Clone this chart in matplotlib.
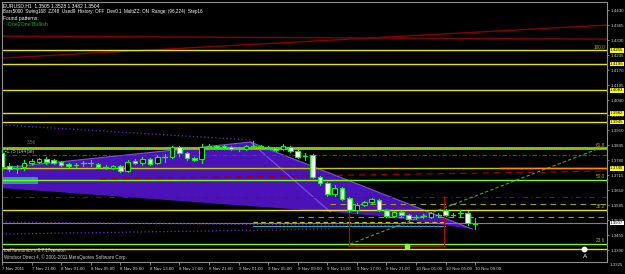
import matplotlib
matplotlib.use("Agg")
import matplotlib.pyplot as plt
import matplotlib.patches as patches

plt.rcParams['font.family'] = ['Liberation Sans', 'DejaVu Sans']

# EURUSD H1 candles, bar index = hours after 7 Nov 2011 17:00
opens = [1.3810, 1.3754, 1.3745, 1.3750, 1.3767, 1.3771, 1.3784, 1.3780, 1.3771, 1.3763,
         1.3758, 1.3767, 1.3766, 1.3763, 1.3750, 1.3745, 1.3754, 1.3732, 1.3776, 1.3767,
         1.3784, 1.3767, 1.3793, 1.3793, 1.3836, 1.3810, 1.3789, 1.3784, 1.3841, 1.3841,
         1.3841, 1.3836, 1.3832, 1.3828, 1.3841, 1.3841, 1.3836, 1.3832, 1.3828, 1.3836,
         1.3819, 1.3797, 1.3802, 1.3706, 1.3680, 1.3633, 1.3659, 1.3615, 1.3563, 1.3585,
         1.3598, 1.3607, 1.3563, 1.3537, 1.3555, 1.3542, 1.3533, 1.3537, 1.3533, 1.3542,
         1.3563, 1.3542, 1.3550, 1.3550, 1.3505]
highs = [1.3823, 1.3767, 1.3758, 1.3780, 1.3784, 1.3789, 1.3793, 1.3784, 1.3776, 1.3767,
         1.3767, 1.3776, 1.3780, 1.3767, 1.3758, 1.3758, 1.3758, 1.3780, 1.3784, 1.3793,
         1.3789, 1.3802, 1.3806, 1.3841, 1.3841, 1.3815, 1.3793, 1.3849, 1.3849, 1.3845,
         1.3845, 1.3841, 1.3836, 1.3845, 1.3862, 1.3845, 1.3841, 1.3836, 1.3849, 1.3841,
         1.3823, 1.3810, 1.3806, 1.3711, 1.3685, 1.3672, 1.3663, 1.3620, 1.3594, 1.3603,
         1.3615, 1.3611, 1.3568, 1.3559, 1.3559, 1.3546, 1.3542, 1.3546, 1.3555, 1.3550,
         1.3568, 1.3550, 1.3563, 1.3559, 1.3528]
lows = [1.3737, 1.3732, 1.3724, 1.3737, 1.3758, 1.3767, 1.3763, 1.3763, 1.3754, 1.3750,
        1.3750, 1.3754, 1.3754, 1.3745, 1.3741, 1.3741, 1.3728, 1.3728, 1.3763, 1.3758,
        1.3758, 1.3763, 1.3771, 1.3789, 1.3797, 1.3780, 1.3776, 1.3767, 1.3832, 1.3828,
        1.3828, 1.3823, 1.3819, 1.3823, 1.3832, 1.3832, 1.3828, 1.3819, 1.3823, 1.3815,
        1.3789, 1.3780, 1.3702, 1.3672, 1.3624, 1.3624, 1.3607, 1.3555, 1.3550, 1.3581,
        1.3594, 1.3559, 1.3533, 1.3533, 1.3537, 1.3520, 1.3524, 1.3529, 1.3529, 1.3533,
        1.3537, 1.3533, 1.3537, 1.3498, 1.3482]
closes = [1.3750, 1.3741, 1.3746, 1.3767, 1.3776, 1.3784, 1.3771, 1.3767, 1.3758, 1.3754,
          1.3757, 1.3768, 1.3767, 1.3750, 1.3749, 1.3754, 1.3732, 1.3771, 1.3767, 1.3784,
          1.3763, 1.3793, 1.3792, 1.3836, 1.3810, 1.3789, 1.3780, 1.3836, 1.3840, 1.3834,
          1.3832, 1.3828, 1.3826, 1.3841, 1.3840, 1.3836, 1.3832, 1.3823, 1.3841, 1.3819,
          1.3793, 1.3796, 1.3706, 1.3680, 1.3633, 1.3659, 1.3611, 1.3563, 1.3585, 1.3598,
          1.3611, 1.3563, 1.3537, 1.3555, 1.3542, 1.3524, 1.3534, 1.3538, 1.3550, 1.3543,
          1.3542, 1.3541, 1.3551, 1.3507, 1.3504]

date_ticks = [0, 4, 8, 12, 16, 20, 24, 28, 32, 36, 40, 44, 48, 52, 56, 60, 64]
date_labels = ["7 Nov 2011", "7 Nov 21:00", "8 Nov 01:00", "8 Nov 05:00", "8 Nov 09:00",
               "8 Nov 13:00", "8 Nov 17:00", "8 Nov 21:00", "9 Nov 01:00", "9 Nov 05:00",
               "9 Nov 09:00", "9 Nov 13:00", "9 Nov 17:00", "9 Nov 21:00", "10 Nov 01:00",
               "10 Nov 05:00", "10 Nov 09:00"]

price_ticks = [1.4430, 1.4365, 1.4300, 1.4235, 1.4170, 1.4105, 1.4040, 1.3975, 1.3910,
               1.3845, 1.3780, 1.3715, 1.3650, 1.3585, 1.3520, 1.3455, 1.3390]

# horizontal levels
yellow_levels = [1.4255, 1.4196, 1.4083, 1.3982, 1.3945, 1.3563, 1.3394]
green_levels = [1.3693, 1.3416]
fib_main = 1.3830
fib_names = ["100.0", "61.8", "50.0", "38.2", "23.6"]
fib_prices = [1.4255, 1.3830, 1.3693, 1.3563, 1.3416]

# harmonic pattern triangles (bar, price)
tri1_x = [-0.2, 33.6, 44.4, -0.2]
tri1_y = [1.3745, 1.3858, 1.3555, 1.3659]
tri2_x = [33.6, 63.6, 51.1, 44.4]
tri2_y = [1.3858, 1.3481, 1.3537, 1.3555]

fig = plt.figure(figsize=(6.25, 2.74), dpi=100, facecolor='black')
ax = fig.add_axes([2/625, 12/274, 605/625, 260/274], facecolor='black')
ax.set_xlim(0.07, 81.83)
ax.set_ylim(1.3338, 1.4465)

# pattern fill
ax.fill(tri1_x, tri1_y, color='#4a12b8', zorder=1, lw=0)
ax.fill(tri2_x, tri2_y, color='#4a12b8', zorder=1, lw=0)
ax.plot(tri1_x[:3], tri1_y[:3], color='#7a55e0', lw=0.8, zorder=1.5)
ax.plot(tri2_x[:2], tri2_y[:2], color='#7a55e0', lw=0.8, zorder=1.5)

# teal box at left
ax.add_patch(patches.Rectangle((0, 1.3676), 4.9, 0.0030, facecolor='#1f9fb0',
                               edgecolor='none', zorder=1.2))

# top red trend lines
ax.plot([0, 81.8], [1.4317, 1.4304], color='#8a0000', lw=1.0, zorder=2)
ax.plot([0, 81.8], [1.4222, 1.4365], color='#8a0000', lw=1.0, zorder=2)

for lv in yellow_levels:
    ax.axhline(lv, color='#e6e600', lw=1.0, zorder=2)
for lv in green_levels:
    ax.axhline(lv, color='#7cff00', lw=1.0, zorder=2)
ax.axhline(fib_main, color='#58c020', lw=2.2, zorder=2)
ax.axhline(fib_main, color='#c8c800', lw=0.8, ls=(0, (1, 1)), zorder=2.1)
ax.axhline(1.3802, color='#008000', lw=0.8, ls=(0, (4, 2, 1, 2)), zorder=2)
ax.axhline(1.3745, color='#c8c800', lw=1.0, zorder=2)
ax.plot([67.3, 81.8], [1.3745, 1.3745], color='#ff8c00', lw=1.0, zorder=2.1)
ax.plot([13.3, 81.8], [1.3698, 1.3732], color='#a00000', lw=0.9, ls=(0, (5, 4)), zorder=2)
ax.axhline(1.3620, color='#a00000', lw=0.8, ls=(0, (5, 3, 1, 3)), zorder=2)
ax.plot([44.4, 81.8], [1.3589, 1.3589], color='#a0a000', lw=0.8, ls=(0, (5, 4)), zorder=2)
ax.plot([40.0, 81.8], [1.3533, 1.3533], color='#a0a000', lw=0.8, ls=(0, (5, 4)), zorder=2)
ax.axhline(1.3507, color='#808080', lw=0.8, zorder=2)
ax.plot([34.0, 59.9], [1.3511, 1.3511], color='#c8c800', lw=0.8, ls=(0, (4, 3)), zorder=2)
ax.plot([34.0, 59.9], [1.3494, 1.3494], color='#20b0c0', lw=0.8, zorder=2)

# dotted purple lines
ax.plot([0, 33.6], [1.3932, 1.3867], color='#6a2ad0', lw=0.9, ls=(0, (1, 2)), zorder=2)
ax.plot([0, 59.3], [1.3511, 1.3494], color='#6a2ad0', lw=0.9, ls=(0, (1, 2)), zorder=2)
ax.plot([0, 44.4], [1.3459, 1.3481], color='#6a2ad0', lw=0.9, ls=(0, (1, 2)), zorder=2)

# rising green dashed line
ax.plot([47.1, 80.9], [1.3416, 1.3832], color='#30b030', lw=0.8, ls=(0, (3, 2)), zorder=2)

# red target box
ax.plot([46.9, 46.9], [1.3620, 1.3407], color='#c00000', lw=0.9, zorder=2.2)
ax.plot([59.8, 59.8], [1.3620, 1.3407], color='#c00000', lw=0.9, zorder=2.2)
ax.plot([46.9, 59.8], [1.3407, 1.3407], color='#c00000', lw=1.2, zorder=2.2)
ax.plot([54.8], [1.3409], marker='s', ms=2.5, color='#80ff40', zorder=2.3)

# candles
w = 0.62
for i in range(len(opens)):
    o, h, l, c = opens[i], highs[i], lows[i], closes[i]
    ax.plot([i, i], [l, h], color='#00ff00', lw=0.8, zorder=3)
    if abs(c - o) < 0.0002:
        ax.plot([i - w/2, i + w/2], [c, c], color='#00ff00', lw=0.9, zorder=3.1)
    else:
        face = 'black' if c > o else 'white'
        ax.add_patch(patches.Rectangle((i - w/2, min(o, c)), w, abs(c - o),
                                       facecolor=face, edgecolor='#00ff00', lw=0.8, zorder=3.1))

# fibo labels on the right
for name, pr in zip(fib_names, fib_prices):
    ax.text(81.6, pr + 0.0004, name, color='#b4b400', fontsize=3.4, ha='right', va='bottom', zorder=4)

ax.text(0.4, 1.3815, "\u25aa1.75 (144 pe)", color='#c0c0c0', fontsize=3.3, va='center', zorder=4)
ax.text(3.4, 1.3856, "3.56", color='#707070', fontsize=3.3, va='center', zorder=4)

# axes styling
for sp in ax.spines.values():
    sp.set_color('#909090')
    sp.set_linewidth(0.8)
ax.yaxis.tick_right()
ax.set_yticks(price_ticks)
ax.set_yticklabels([f"{p:.4f}" for p in price_ticks])
ax.tick_params(axis='y', colors='#909090', labelcolor='#d0d0d0', labelsize=3.2,
               length=1.5, pad=0.8, width=0.6)
ax.set_xticks(date_ticks)
ax.set_xticklabels(date_labels)
ax.tick_params(axis='x', colors='#909090', labelcolor='#d0d0d0', labelsize=3.2,
               length=2, pad=1.5, width=0.6)
for lab in ax.get_xticklabels():
    lab.set_ha('left')

ax.text(1.004, 1.3325, "1.3325", transform=ax.get_yaxis_transform(), color='#d0d0d0',
        fontsize=3.2, va='center', clip_on=False)

# highlighted price labels
for lv in yellow_levels[:5] + [1.3745]:
    ax.text(1.005, lv, f"{lv:.4f}", transform=ax.get_yaxis_transform(), color='black',
            fontsize=3.2, va='center', clip_on=False, zorder=6,
            bbox=dict(facecolor='#ffff00', edgecolor='none', pad=0.3))
ax.text(1.005, 1.3507, "1.3507", transform=ax.get_yaxis_transform(), color='black',
        fontsize=3.2, va='center', clip_on=False, zorder=6,
        bbox=dict(facecolor='white', edgecolor='none', pad=0.3))

# icon at the bottom right
ax.plot([78.7], [1.3394], marker='o', ms=3.2, color='white', zorder=5)
ax.text(78.9, 1.3360, "A", color='white', fontsize=4.5, ha='center', va='center', zorder=5)

# text overlays
fig.text(3/625, 1 - 3/274, "EURUSD,H1  1.3505 1.3528 1.3482 1.3504", color='white',
         fontsize=3.6, va='top')
fig.text(3/625, 1 - 9.5/274,
         "Bars5000  Swing168  ZZ48  Used9  History: OFF  Dev0.1  MultiZZ: ON  Range: (96,224)  Step16",
         color='white', fontsize=3.3, va='top')
fig.text(3/625, 1 - 16/274, "Found patterns:", color='white', fontsize=3.6, va='top')
fig.text(6/625, 1 - 22.5/274, "-One2One Bullish", color='#00c000', fontsize=3.8, va='top')
fig.text(4/625, 1 - 248/274, "ioeHarmonics v 8.7.17version", color='#d0d0d0', fontsize=3.3, va='top')
fig.text(4/625, 1 - 254.5/274, "Windsor Direct 4, \u00a9 2001-2011 MetaQuotes Software Corp.",
         color='#d0d0d0', fontsize=3.3, va='top')

fig.savefig("out.png", dpi=100, facecolor='black')
